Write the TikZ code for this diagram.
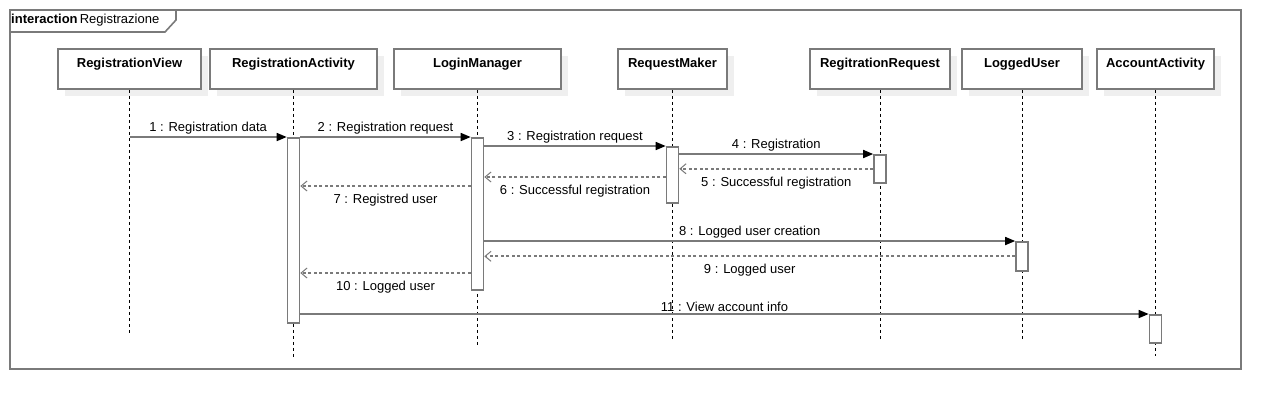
\documentclass[tikz,border=0pt]{standalone}
\usepackage{fontspec}
\setmainfont{Liberation Sans}
\usetikzlibrary{arrows.meta,shadows}
\definecolor{umlgray}{RGB}{122,122,122}
\definecolor{shadowgray}{RGB}{239,239,239}
\begin{document}
\begin{tikzpicture}[x=1pt,y=-1pt,
	every node/.style={font=\fontsize{13}{15}\selectfont},
	frm/.style={draw=umlgray,line width=1.6pt},
	head/.style={draw=umlgray,line width=1.6pt,fill=white,minimum height=40pt,inner sep=0pt,
		drop shadow={shadow xshift=7pt,shadow yshift=-7pt,fill=shadowgray,opacity=1}},
	hname/.style={font=\fontsize{13}{15}\selectfont\bfseries,inner sep=0pt},
	life/.style={black,line width=0.8pt,dash pattern=on 3pt off 3pt},
	act/.style={draw=umlgray,line width=1.6pt,fill=white,minimum width=12pt,inner sep=0pt,anchor=north},
	msg/.style={umlgray,line width=1.6pt,-{Triangle[length=10pt,width=8pt,fill=black,color=black]}},
	ret/.style={umlgray,line width=1.8pt,dash pattern=on 3pt off 2.5pt,-{Straight Barb[length=6pt,width=10pt,line width=1pt]}},
	lbl/.style={text=black,inner sep=2pt},
	lblb/.style={text=black,inner sep=2pt,yshift=-5pt}]
	\fill[white] (0,0) rectangle (1282,410);
	\useasboundingbox (0,0) rectangle (1282,410);
	\draw[frm] (10,10) rectangle (1241,369);
	\draw[frm,fill=white] (10,10) -- (176,10) -- (176,20) -- (165,32) -- (10,32) -- cycle;
	\node[anchor=west,inner sep=0pt] (title) at (11,20) {\textbf{interaction}\,Registrazione};
	\node[head,minimum width=143pt] (rv) at (129.5,69) {};
	\node[head,minimum width=167pt] (ra) at (293.5,69) {};
	\node[head,minimum width=167pt] (lm) at (477.5,69) {};
	\node[head,minimum width=109pt] (rm) at (672.5,69) {};
	\node[head,minimum width=140pt] (rr) at (880,69) {};
	\node[head,minimum width=120pt] (lu) at (1022,69) {};
	\node[head,minimum width=117pt] (aa) at (1155.5,69) {};
	\node[hname] at ([yshift=-15.5pt]rv.north) {RegistrationView};
	\node[hname] at ([yshift=-15.5pt]ra.north) {RegistrationActivity};
	\node[hname] at ([yshift=-15.5pt]lm.north) {LoginManager};
	\node[hname] at ([yshift=-15.5pt]rm.north) {RequestMaker};
	\node[hname] at ([yshift=-15.5pt]rr.north) {RegitrationRequest};
	\node[hname] at ([yshift=-15.5pt]lu.north) {LoggedUser};
	\node[hname] at ([yshift=-15.5pt]aa.north) {AccountActivity};
	\draw[life] (rv.south) -- ++(0,243);
	\draw[life] (ra.south) -- ++(0,267);
	\draw[life] (lm.south) -- ++(0,256);
	\draw[life] (rm.south) -- ++(0,249);
	\draw[life] (rr.south) -- ++(0,249);
	\draw[life] (lu.south) -- ++(0,249);
	\draw[life] (aa.south) -- ++(0,266);
	\node[act,minimum height=185pt] (ra-act) at (ra.south |- 0,137) {};
	\node[act,minimum height=152pt] (lm-act) at (lm.south |- 0,137) {};
	\node[act,minimum height=56pt] (rm-act) at (rm.south |- 0,146) {};
	\node[act,minimum height=28pt] (rr-act) at (rr.south |- 0,154) {};
	\node[act,minimum height=29pt] (lu-act) at (lu.south |- 0,241) {};
	\node[act,minimum height=28pt] (aa-act) at (aa.south |- 0,314) {};
	\coordinate (r6) at (0,177);
	\coordinate (r7) at (0,186);
	\coordinate (r10) at (0,273);
	\draw[msg] (rv |- ra-act.north) -- (ra-act.north west) node[lbl,midway,above]{1 : Registration data};
	\draw[msg] (ra-act.north east) -- (lm-act.north west) node[lbl,midway,above]{2 : Registration request};
	\draw[msg] (lm-act.east |- rm-act.north) -- (rm-act.north west) node[lbl,midway,above]{3 : Registration request};
	\draw[msg] (rm-act.east |- rr-act.north) -- (rr-act.north west) node[lbl,midway,above]{4 : Registration};
	\draw[ret] (rr-act.west) -- (rm-act.east |- rr-act.west) node[lblb,midway,below]{5 : Successful registration};
	\draw[ret] (rm-act.west |- r6) -- (lm-act.east |- r6) node[lblb,midway,below]{6 : Successful registration};
	\draw[ret] (lm-act.west |- r7) -- (ra-act.east |- r7) node[lblb,midway,below]{7 : Registred user};
	\draw[msg] (lm-act.east |- lu-act.north) -- (lu-act.north west) node[lbl,midway,above]{8 : Logged user creation};
	\draw[ret] (lu-act.west) -- (lm-act.east |- lu-act.west) node[lblb,midway,below]{9 : Logged user};
	\draw[ret] (lm-act.west |- r10) -- (ra-act.east |- r10) node[lblb,midway,below]{10 : Logged user};
	\draw[msg] (ra-act.east |- aa-act.north) -- (aa-act.north west) node[lbl,midway,above]{11 : View account info};
\end{tikzpicture}
\end{document}
